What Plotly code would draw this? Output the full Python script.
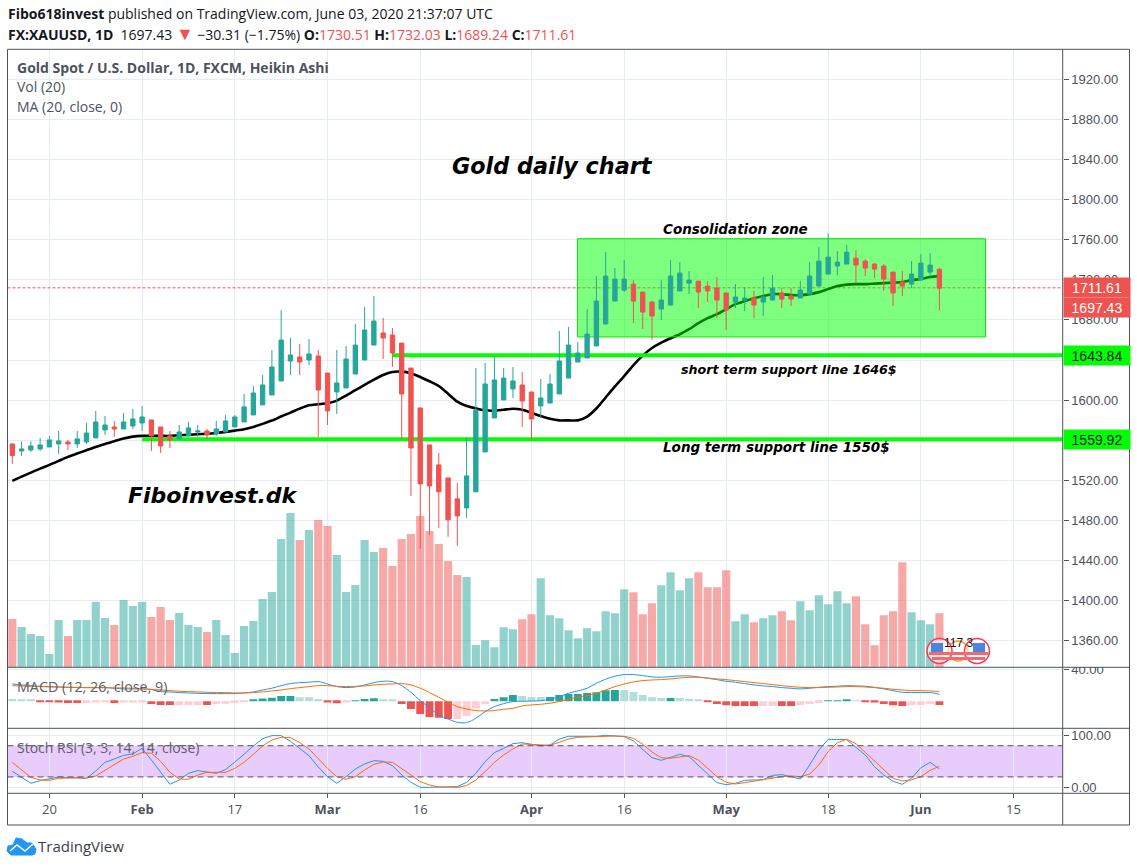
import plotly.graph_objects as go

# daily Heikin Ashi bars, Jan 14 - Jun 3 2020 (one row per trading day)
opens = [1556.3, 1549.3, 1550.3, 1551.3, 1553.3, 1556.3, 1558.3, 1556.3, 1558.3, 1562.3,
         1570.2, 1573.2, 1571.2, 1574.2, 1577.2, 1580.2, 1573.2, 1564.3, 1561.3, 1564.3,
         1568.2, 1569.2, 1566.3, 1568.2, 1573.2, 1578.2, 1585.2, 1595.2, 1605.1, 1619.1,
         1639.0, 1643.0, 1640.0, 1644.0, 1627.0, 1608.1, 1612.1, 1626.0, 1640.0, 1654.9,
         1666.9, 1664.9, 1656.9, 1632.0, 1592.2, 1555.3, 1535.4, 1522.4, 1501.5, 1492.5,
         1508.5, 1548.3, 1582.2, 1600.1, 1611.1, 1615.1, 1608.1, 1594.2, 1597.1, 1606.1,
         1622.0, 1638.0, 1642.0, 1654.0, 1675.9, 1698.8, 1709.7, 1715.7, 1707.8, 1697.8,
         1690.8, 1694.8, 1708.8, 1716.7, 1718.7, 1713.7, 1711.7, 1706.8, 1697.8, 1699.8,
         1701.8, 1697.8, 1699.8, 1706.8, 1703.8, 1701.8, 1705.8, 1713.7, 1725.7, 1733.7,
         1735.7, 1741.6, 1738.6, 1735.7, 1733.7, 1727.7, 1717.7, 1715.7, 1719.7, 1727.7,
         1730.51]
highs = [1556.3, 1558.9, 1558.9, 1562.3, 1564.3, 1569.2, 1560.3, 1569.2, 1577.2, 1589.2,
         1584.2, 1579.2, 1587.2, 1591.2, 1594.2, 1580.2, 1573.2, 1569.2, 1575.2, 1578.2,
         1575.2, 1571.2, 1579.2, 1585.2, 1585.2, 1606.1, 1614.1, 1625.0, 1650.0, 1689.8,
         1661.9, 1655.9, 1660.9, 1650.0, 1627.0, 1650.0, 1653.9, 1675.9, 1692.8, 1703.8,
         1681.8, 1671.9, 1656.9, 1632.0, 1592.2, 1555.3, 1547.3, 1522.4, 1517.4, 1562.3,
         1632.0, 1637.0, 1644.0, 1632.0, 1633.0, 1628.0, 1608.1, 1621.0, 1626.0, 1668.9,
         1672.9, 1657.9, 1690.8, 1723.7, 1747.6, 1731.7, 1739.6, 1719.7, 1707.8, 1698.8,
         1719.7, 1739.6, 1737.6, 1728.7, 1718.7, 1718.7, 1722.7, 1706.8, 1715.7, 1712.7,
         1708.8, 1722.7, 1724.7, 1711.7, 1711.7, 1718.7, 1737.6, 1752.6, 1766.5, 1748.6,
         1754.6, 1749.6, 1740.6, 1736.7, 1735.7, 1727.7, 1728.7, 1738.6, 1745.6, 1746.6,
         1732.03]
lows = [1536.4, 1544.3, 1548.3, 1549.3, 1553.3, 1546.3, 1550.3, 1552.3, 1556.3, 1562.3,
        1565.3, 1563.3, 1571.2, 1571.2, 1569.2, 1549.3, 1547.3, 1552.3, 1560.3, 1564.3,
        1563.3, 1561.3, 1564.3, 1568.2, 1573.2, 1578.2, 1585.2, 1595.2, 1605.1, 1619.1,
        1625.0, 1625.0, 1635.0, 1563.3, 1575.2, 1586.2, 1612.1, 1626.0, 1640.0, 1654.9,
        1641.0, 1633.0, 1560.3, 1504.5, 1451.7, 1465.6, 1472.6, 1463.6, 1454.6, 1482.5,
        1508.5, 1548.3, 1582.2, 1600.1, 1602.1, 1573.2, 1560.3, 1582.2, 1597.1, 1606.1,
        1622.0, 1638.0, 1642.0, 1654.0, 1675.9, 1698.8, 1707.8, 1676.9, 1670.9, 1659.9,
        1679.9, 1694.8, 1708.8, 1705.8, 1691.8, 1697.8, 1681.8, 1669.9, 1691.8, 1688.8,
        1681.8, 1683.8, 1699.8, 1691.8, 1693.8, 1701.8, 1705.8, 1713.7, 1725.7, 1724.7,
        1735.7, 1716.7, 1723.7, 1721.7, 1708.8, 1693.8, 1703.8, 1711.7, 1719.7, 1722.7,
        1689.24]
closes = [1544.7, 1551.3, 1554.3, 1555.3, 1560.3, 1559.3, 1556.3, 1561.3, 1567.2, 1578.2,
          1575.2, 1571.2, 1578.2, 1581.2, 1583.2, 1564.3, 1554.3, 1560.3, 1568.2, 1572.2,
          1569.2, 1565.3, 1571.2, 1579.2, 1583.2, 1593.2, 1607.1, 1615.1, 1633.0, 1659.9,
          1645.0, 1638.0, 1646.0, 1610.1, 1589.2, 1617.1, 1641.0, 1654.9, 1669.9, 1678.8,
          1661.9, 1647.0, 1606.1, 1552.3, 1516.4, 1514.4, 1508.5, 1480.6, 1484.5, 1524.4,
          1590.2, 1616.1, 1620.1, 1622.0, 1619.1, 1599.1, 1581.2, 1602.1, 1616.1, 1639.0,
          1654.9, 1647.0, 1665.9, 1698.8, 1723.7, 1720.7, 1720.7, 1698.8, 1687.8, 1683.8,
          1699.8, 1723.7, 1726.7, 1719.7, 1707.8, 1708.8, 1699.8, 1689.8, 1702.8, 1701.8,
          1694.8, 1702.8, 1711.7, 1700.8, 1700.8, 1709.7, 1723.7, 1738.6, 1742.6, 1737.6,
          1747.6, 1734.7, 1731.7, 1730.7, 1720.7, 1706.8, 1713.7, 1725.7, 1736.7, 1734.7,
          1711.61]
ma20 = [1519.5, 1523.7, 1527.7, 1531.7, 1535.4, 1539.4, 1543.4, 1546.7, 1550.0, 1553.3,
        1556.3, 1559.0, 1561.6, 1563.6, 1564.3, 1564.3, 1564.3, 1564.3, 1565.0, 1565.3,
        1566.0, 1566.3, 1567.3, 1568.3, 1569.6, 1571.0, 1573.3, 1576.3, 1579.6, 1583.7,
        1587.5, 1591.5, 1594.9, 1595.9, 1596.9, 1599.5, 1604.5, 1609.9, 1615.2, 1620.4,
        1625.1, 1628.1, 1628.4, 1626.8, 1623.1, 1618.8, 1614.1, 1606.4, 1598.4, 1594.1,
        1591.8, 1589.8, 1589.4, 1590.4, 1591.4, 1590.4, 1587.4, 1584.1, 1581.4, 1579.8,
        1579.8, 1579.8, 1583.6, 1591.6, 1602.6, 1613.6, 1624.0, 1635.0, 1644.4, 1652.0,
        1657.4, 1661.7, 1665.7, 1670.7, 1676.7, 1681.7, 1685.7, 1690.7, 1695.7, 1698.7,
        1701.7, 1703.7, 1705.7, 1705.7, 1704.7, 1704.7, 1705.7, 1707.7, 1710.7, 1713.7,
        1715.2, 1715.7, 1715.7, 1716.2, 1716.7, 1717.2, 1717.7, 1719.7, 1720.7, 1722.7,
        1723.7]
volume = [145, 121, 100, 94, 40, 142, 94, 142, 142, 196,
          148, 127, 202, 184, 196, 151, 181, 142, 163, 127,
          121, 106, 142, 97, 43, 124, 139, 205, 226, 385,
          463, 382, 412, 442, 424, 337, 226, 247, 382, 346,
          358, 304, 385, 400, 454, 409, 370, 319, 277, 271,
          67, 81, 60, 120, 114, 144, 159, 267, 156, 147,
          111, 87, 117, 108, 168, 162, 234, 225, 159, 192,
          246, 285, 231, 267, 285, 240, 240, 291, 138, 159,
          135, 147, 156, 168, 141, 198, 171, 216, 189, 228,
          192, 213, 129, 66, 156, 168, 315, 165, 141, 129,
          162]
vol_down_days = [0, 6, 11, 15, 16, 17, 21, 31, 33, 34, 40, 41, 42, 43, 44, 45, 46, 47, 48,
                 55, 56, 67, 68, 69, 74, 75, 76, 77, 80, 83, 84, 91, 92, 93, 94, 95, 96, 100]

macd_line = [21.9, 20.7, 19.8, 19.0, 18.6, 18.1, 17.7, 17.3, 17.3, 17.3,
             17.3, 16.5, 15.6, 15.6, 15.6, 14.8, 12.2, 11.8, 11.0, 10.5,
             10.1, 9.7, 9.7, 9.7, 9.7, 10.5, 11.8, 14.3, 16.5, 19.8,
             22.4, 23.6, 24.1, 24.9, 21.9, 18.6, 17.3, 18.1, 20.7, 23.6,
             25.3, 24.9, 19.8, 11.4, 0.8, -8.0, -17.3, -22.4, -26.6, -27.0,
             -21.5, -13.1, -6.8, -3.0, -0.4, 0.0, 0.4, 0.8, 2.5, 5.9,
             10.1, 13.1, 16.5, 22.8, 27.9, 31.7, 33.8, 33.8, 32.5, 30.8,
             30.4, 31.2, 32.1, 32.1, 30.8, 29.1, 27.4, 25.3, 24.1, 22.4,
             20.7, 19.4, 18.6, 17.3, 16.5, 15.6, 16.5, 17.7, 18.6, 19.0,
             19.8, 19.4, 19.0, 17.7, 15.6, 13.5, 11.4, 11.0, 11.0, 11.0,
             8.9]
macd_signal = [19.8, 19.4, 19.0, 18.6, 18.1, 18.1, 17.7, 17.7, 17.3, 17.3,
               17.3, 16.9, 16.9, 16.5, 16.0, 15.2, 14.3, 13.5, 12.7, 12.2,
               11.8, 11.4, 11.0, 11.0, 10.5, 10.5, 11.0, 11.8, 13.1, 14.3,
               16.0, 17.3, 18.6, 19.8, 19.8, 19.0, 18.6, 19.0, 19.4, 20.7,
               21.5, 21.9, 22.4, 20.7, 16.5, 11.0, 5.1, -1.3, -6.8, -9.7,
               -11.8, -12.2, -11.8, -10.1, -8.9, -5.9, -4.6, -3.8, -2.5, -0.4,
               2.5, 5.1, 7.2, 10.1, 14.3, 18.6, 21.9, 24.5, 26.2, 27.0,
               27.4, 28.3, 29.5, 30.4, 30.4, 29.5, 28.3, 27.4, 26.2, 24.9,
               23.6, 22.4, 21.1, 19.8, 18.6, 17.7, 17.3, 17.3, 17.7, 18.1,
               18.6, 18.6, 18.1, 17.3, 16.5, 15.2, 14.3, 13.5, 13.5, 13.1,
               12.2]
macd_hist = [2.9, 2.5, 1.7, -0.4, -0.8, -1.7, -2.1, -2.1, -2.1, -1.7,
             -0.8, -2.1, -1.7, -1.7, -1.7, -3.4, -4.6, -4.6, -4.6, -4.6,
             -4.6, -4.6, -3.4, -3.0, -2.1, -0.8, 2.1, 3.4, 4.6, 6.8,
             6.8, 5.1, 5.1, 3.0, -1.7, -2.5, -1.7, 0.8, 3.0, 3.8,
             2.5, 1.7, -3.4, -9.7, -16.0, -19.8, -21.0, -22.4, -22.4, -18.6,
             -9.0, -3.8, 3.0, 5.1, 8.0, 6.8, 5.5, 5.5, 5.5, 8.0,
             9.3, 9.3, 10.5, 11.4, 13.9, 14.3, 14.3, 11.8, 8.0, 5.1,
             4.2, 4.2, 4.2, 3.0, 1.7, -0.4, -3.4, -5.1, -5.9, -5.9,
             -5.9, -5.9, -5.9, -5.9, -5.9, -4.6, -3.4, -2.1, 0.4, 0.4,
             1.7, 0.4, -0.4, -1.7, -3.4, -5.1, -5.9, -4.6, -4.6, -3.4,
             -4.6]
# D = strong histogram colour, L = pale one
hist_shade = ("LLLDDDDDLLLDLLLDDDLLLDLLLLDDDDDLLLDDLDDDLLDDDDDDLLLLDDDLLLDDDDDDDDLLLLLDLLLDDDDDDLLDDLLLDDDLDDDDDLLLD")

stoch_k = [30.8, 19.2, 7.7, 12.8, 16.7, 19.9, 18.6, 17.3, 17.3, 31.4,
           48.1, 54.5, 61.5, 64.1, 75.0, 52.6, 28.8, 5.8, 14.1, 26.9,
           32.1, 28.8, 26.9, 34.0, 48.1, 63.5, 79.5, 93.6, 99.4, 99.4,
           88.5, 74.4, 60.9, 39.1, 20.5, 7.7, 20.5, 35.3, 44.9, 51.3,
           50.0, 41.7, 23.7, 9.6, 0.0, 0.0, 0.0, 0.0, 1.3, 9.6,
           26.9, 49.4, 66.7, 75.0, 84.0, 85.9, 82.7, 79.5, 81.4, 92.9,
           98.1, 98.1, 98.1, 98.1, 100.0, 98.7, 97.4, 89.1, 73.7, 57.0,
           51.9, 58.3, 63.5, 59.0, 42.9, 25.0, 9.0, 5.1, 7.7, 13.5,
           13.5, 14.7, 23.1, 24.4, 20.5, 16.0, 42.9, 71.8, 92.3, 92.3,
           91.7, 76.9, 62.2, 39.7, 23.7, 11.5, 5.8, 17.3, 37.8, 48.1,
           35.3]
stoch_d = [48.1, 33.3, 19.2, 14.1, 13.5, 17.3, 18.6, 18.6, 17.9, 21.8,
           32.7, 44.2, 54.5, 59.6, 66.7, 65.4, 50.0, 28.8, 16.0, 15.4,
           23.7, 28.8, 28.2, 28.8, 36.5, 48.1, 63.5, 79.5, 91.0, 96.2,
           95.5, 85.9, 73.7, 54.5, 36.5, 20.5, 15.4, 20.5, 33.3, 44.2,
           48.7, 48.1, 36.5, 23.7, 10.9, 4.5, 0.6, 0.0, 0.0, 3.2,
           14.1, 30.1, 48.1, 62.2, 73.7, 83.3, 82.7, 81.4, 80.8, 86.5,
           92.9, 96.2, 96.8, 96.8, 98.7, 98.7, 98.1, 94.2, 82.7, 67.9,
           57.0, 55.8, 58.3, 60.9, 52.6, 37.2, 20.5, 9.6, 6.4, 9.0,
           12.2, 14.7, 18.6, 20.5, 21.8, 20.5, 25.6, 42.9, 68.6, 85.9,
           92.3, 84.0, 67.3, 50.6, 33.3, 17.3, 12.2, 14.1, 20.5, 32.7,
           40.4]

tick_days = [4, 14, 24, 34, 44, 56, 66, 77, 88, 98, 108]
tick_labels = ["20", "<b>Feb</b>", "17", "<b>Mar</b>", "16", "<b>Apr</b>", "16", "<b>May</b>",
               "18", "<b>Jun</b>", "15"]
price_ticks = [1360, 1400, 1440, 1480, 1520, 1560, 1600, 1640, 1680, 1720, 1760, 1800, 1840, 1880, 1920]

zone_days = [60.96, 104.98]
zone_prices = [1663.0, 1761.0]
short_support = 1644.8
long_support = 1561.0
short_support_start = 41
long_support_start = 14
last_close_line = 1712.0

GREEN = "#26a69a"
RED = "#ef5350"
LINE = "#4c525e"
GRID = "#e4edf4"
FONT = "Open Sans"
SANS = "Liberation Sans"
VERDANA = "DejaVu Sans"
FIG_W = 1137
FIG_H = 867
X_RIGHT_DAY = 113.3
X_LEFT_DAY = -0.52
LEFT = 7.5
RIGHT = 1062.7


# page pixels to paper coordinates
def fx(x):
    return x / FIG_W


def fy(y):
    return 1 - y / FIG_H


days = list(range(len(closes)))
vol_colors = ["rgba(239,83,80,0.5)" if d in vol_down_days else "rgba(38,166,154,0.5)" for d in days]
hist_colors = []
for h, s in zip(macd_hist, hist_shade):
    if h >= 0:
        hist_colors.append(GREEN if s == "D" else "#b2dfdb")
    else:
        hist_colors.append(RED if s == "D" else "#ffcdd2")

fig = go.Figure()

# price axis subplot: MA, support lines, zone (zone has to sit over the MA)
fig.add_trace(go.Scatter(x=[X_LEFT_DAY, X_RIGHT_DAY], y=[last_close_line, last_close_line], mode="lines",
                         line=dict(color=RED, width=1, dash="3px,2px"), xaxis="x", yaxis="y"))
fig.add_trace(go.Scatter(x=days, y=ma20, mode="lines", line=dict(color="black", width=2.6, shape="spline", smoothing=0.7),
                         xaxis="x", yaxis="y"))
fig.add_trace(go.Scatter(x=[short_support_start, X_RIGHT_DAY], y=[short_support, short_support], mode="lines",
                         line=dict(color="#00ff00", width=4), xaxis="x", yaxis="y"))
fig.add_trace(go.Scatter(x=[long_support_start, X_RIGHT_DAY], y=[long_support, long_support], mode="lines",
                         line=dict(color="#00ff00", width=4), xaxis="x", yaxis="y"))
fig.add_trace(go.Scatter(x=[zone_days[0], zone_days[1], zone_days[1], zone_days[0], zone_days[0]],
                         y=[zone_prices[0], zone_prices[0], zone_prices[1], zone_prices[1], zone_prices[0]],
                         mode="lines", fill="toself", fillcolor="rgba(0,255,0,0.5)",
                         line=dict(color="#00ee00", width=1), xaxis="x", yaxis="y"))

fig.add_trace(go.Bar(x=days, y=volume, marker=dict(color=vol_colors, line=dict(width=0)), width=0.88,
                     xaxis="x", yaxis="y2"))
fig.add_trace(go.Candlestick(x=days, open=opens, high=highs, low=lows, close=closes,
                             increasing=dict(line=dict(color=GREEN, width=1), fillcolor=GREEN),
                             decreasing=dict(line=dict(color=RED, width=1), fillcolor=RED),
                             whiskerwidth=0, xaxis="x", yaxis="y3"))

fig.add_trace(go.Bar(x=days, y=macd_hist, marker=dict(color=hist_colors, line=dict(width=0)), width=0.85,
                     xaxis="x2", yaxis="y4"))
fig.add_trace(go.Scatter(x=days, y=macd_line, mode="lines", line=dict(color="#2196f3", width=1, shape="spline"),
                         xaxis="x2", yaxis="y4"))
fig.add_trace(go.Scatter(x=days, y=macd_signal, mode="lines", line=dict(color="#ff6d00", width=1, shape="spline"),
                         xaxis="x2", yaxis="y4"))

fig.add_trace(go.Scatter(x=days, y=stoch_k, mode="lines", line=dict(color="#2196f3", width=1), xaxis="x3", yaxis="y5"))
fig.add_trace(go.Scatter(x=days, y=stoch_d, mode="lines", line=dict(color="#ff6d00", width=1), xaxis="x3", yaxis="y5"))

x_common = dict(range=[X_LEFT_DAY, X_RIGHT_DAY], domain=[fx(LEFT), fx(RIGHT)], tickmode="array",
                tickvals=tick_days, showgrid=True, gridcolor=GRID, gridwidth=1, zeroline=False,
                showline=False, rangeslider=dict(visible=False), type="linear")
tick_font = dict(family=SANS, size=13, color=LINE)

fig.update_layout(
    width=FIG_W, height=FIG_H, margin=dict(l=0, r=0, t=0, b=0, autoexpand=False),
    paper_bgcolor="white", plot_bgcolor="white", showlegend=False, boxgap=0.33, barmode="overlay",
    xaxis=dict(anchor="y", showticklabels=False, ticks="", **x_common),
    xaxis2=dict(anchor="y4", showticklabels=False, ticks="", **x_common),
    xaxis3=dict(anchor="y5", ticktext=tick_labels, ticks="outside", ticklen=4, tickcolor=LINE,
                tickfont=dict(family=FONT, size=13, color=LINE), **x_common),
    yaxis=dict(domain=[fy(667.3), fy(49.3)], range=[1333.5, 1949.9], side="right", anchor="x",
               tickmode="array", tickvals=price_ticks, tickformat=".2f", ticks="outside", ticklen=5,
               tickcolor=LINE, tickfont=tick_font, showgrid=True, gridcolor=GRID, zeroline=False),
    yaxis2=dict(overlaying="y", range=[0, 1854], visible=False),
    yaxis3=dict(overlaying="y", range=[1333.5, 1949.9], visible=False),
    yaxis4=dict(domain=[fy(728.3), fy(667.3)], range=[-34.2, 43], side="right", anchor="x2",
                tickmode="array", tickvals=[40], tickformat=".2f", ticks="outside", ticklen=5,
                tickcolor=LINE, tickfont=tick_font, showgrid=True, gridcolor=GRID, zeroline=False),
    yaxis5=dict(domain=[fy(793.3), fy(728.3)], range=[-11.5, 113.5], side="right", anchor="x3",
                tickmode="array", tickvals=[0, 100], tickformat=".2f", ticks="outside", ticklen=5,
                tickcolor=LINE, tickfont=tick_font, showgrid=True, gridcolor=GRID, zeroline=False),
)

# stoch RSI band
fig.add_shape(type="rect", xref="paper", yref="y5", x0=fx(LEFT), x1=fx(RIGHT), y0=20, y1=80,
              fillcolor="#e8cdfc", line_width=0, layer="below")
for level in [20, 80]:
    fig.add_shape(type="line", xref="paper", yref="y5", x0=fx(LEFT), x1=fx(RIGHT), y0=level, y1=level,
                  line=dict(color="#5b4a66", width=1, dash="6px,4px"), layer="above")

# hides the top half of the 40.00 label, like the pane edge does
fig.add_shape(type="rect", xref="paper", yref="paper", x0=fx(1064), x1=fx(1128), y0=fy(667), y1=fy(655),
              fillcolor="white", line_width=0, layer="above")


def frame_line(x0, y0, x1, y1):
    fig.add_shape(type="line", xref="paper", yref="paper", x0=fx(x0), x1=fx(x1), y0=fy(y0), y1=fy(y1),
                  line=dict(color=LINE, width=1), layer="above")


frame_line(LEFT, 49.3, 1129.5, 49.3)
frame_line(LEFT, 825, 1129.5, 825)
frame_line(LEFT, 49.3, LEFT, 825)
frame_line(1129.5, 49.3, 1129.5, 825)
frame_line(RIGHT, 49.3, RIGHT, 825)
frame_line(LEFT, 667.3, 1129.5, 667.3)
frame_line(LEFT, 728.3, 1129.5, 728.3)
frame_line(LEFT, 793.3, 1129.5, 793.3)


# US events badges sitting on the volume pane
def circle(cx, cy, r, line_color, fill):
    fig.add_shape(type="circle", xref="paper", yref="paper", x0=fx(cx - r), x1=fx(cx + r), y0=fy(cy + r), y1=fy(cy - r),
                  fillcolor=fill, line=dict(color=line_color, width=1.5), layer="above")


def box(x0, y0, x1, y1, fill):
    fig.add_shape(type="rect", xref="paper", yref="paper", x0=fx(x0), x1=fx(x1), y0=fy(y1), y1=fy(y0),
                  fillcolor=fill, line_width=0, layer="above")


circle(958, 651, 10, "#f7a21b", "rgba(255,255,255,0)")
circle(939.5, 651, 12.5, "#ff3355", "rgba(255,255,255,0.6)")
circle(977, 651, 12.5, "#ff3355", "rgba(255,255,255,0.6)")
box(931, 643, 943, 652, "#4a86e0")
box(973, 643, 985, 652, "#4a86e0")
box(929, 652, 988, 655, "#f06a70")
box(932, 657, 985, 660, "#f06a70")

# TradingView cloud logo
logo = [(7, 851), (8, 846), (13, 845), (16, 838), (22, 839), (27, 843), (32, 843), (36, 849), (35, 854), (32, 855), (11, 855)]
logo_path = "M" + " L".join(f"{fx(a):.5f},{fy(b):.5f}" for a, b in logo) + " Z"
fig.add_shape(type="path", path=logo_path, xref="paper", yref="paper", fillcolor="#2196f3", line=dict(color="#2196f3", width=1))
logo_line = [(10, 851), (17, 845), (25, 851), (33, 844)]
fig.add_shape(type="path", path="M" + " L".join(f"{fx(a):.5f},{fy(b):.5f}" for a, b in logo_line),
              xref="paper", yref="paper", line=dict(color="white", width=1.5))


def note(x, y, text, size, color="#131722", family=FONT, anchor="left", **kw):
    fig.add_annotation(xref="paper", yref="paper", x=fx(x), y=fy(y), text=text, showarrow=False,
                       xanchor=anchor, yanchor="middle", align="left", borderpad=0,
                       font=dict(family=family, size=size, color=color), **kw)


def red(s):
    return f'<span style="color:{RED}">{s}</span>'


note(7, 14, "<b>Fibo618invest</b> published on TradingView.com, June 03, 2020 21:37:07 UTC", 14)
note(7, 33, "<b>FX:XAUUSD, 1D</b>\u00a0 1697.43 <span style=\"color:" + RED + ";font-size:18px\">▼</span> −30.31 (−1.75%) <b>O:</b>" + red("1730.51")
     + " <b>H:</b>" + red("1732.03") + " <b>L:</b>" + red("1689.24") + " <b>C:</b>" + red("1711.61"), 14)
note(16, 68, "<b>Gold Spot / U.S. Dollar, 1D, FXCM, Heikin Ashi</b>", 14, LINE)
note(16, 87, "Vol (20)", 14, LINE)
note(16, 106, "MA (20, close, 0)", 14, LINE)
note(16, 686, "MACD (12, 26, close, 9)", 14.3, "#5d606b")
note(16, 747, "Stoch RSI (3, 3, 14, 14, close)", 14, "#5d606b")
note(37, 846, "TradingView", 15, "#3a3e4a")

note(451, 166, "<b><i>Gold daily chart</i></b>", 22.3, "#000000", VERDANA)
note(127, 495, "<b><i>Fiboinvest.dk</i></b>", 22, "#000000", VERDANA)
note(662, 229, "<b><i>Consolidation zone</i></b>", 13.5, "#000000", VERDANA)
note(680, 369, "<b><i>short term support line 1646$</i></b>", 12.7, "#000000", VERDANA)
note(662, 447, "<b><i>Long term support line 1550$</i></b>", 13.5, "#000000", VERDANA)
note(943, 643, "117 3", 12, "#131722", SANS)


def price_tag(y, text, bg, color):
    fig.add_annotation(xref="paper", yref="paper", x=fx(1063), y=fy(y), text=text, showarrow=False,
                       xanchor="left", yanchor="middle", width=66, height=19, align="center", bgcolor=bg,
                       borderpad=0, font=dict(family=SANS, size=14, color=color))


price_tag(287.5, "1711.61", RED, "white")
price_tag(307.5, "1697.43", RED, "white")
price_tag(355.5, "1643.84", "#00ff00", "#131722")
price_tag(439, "1559.92", "#00ff00", "#131722")

fig.write_html("out.html", config={"displayModeBar": False},
               post_script="document.body.style.margin='0';document.documentElement.style.overflow='hidden';")
